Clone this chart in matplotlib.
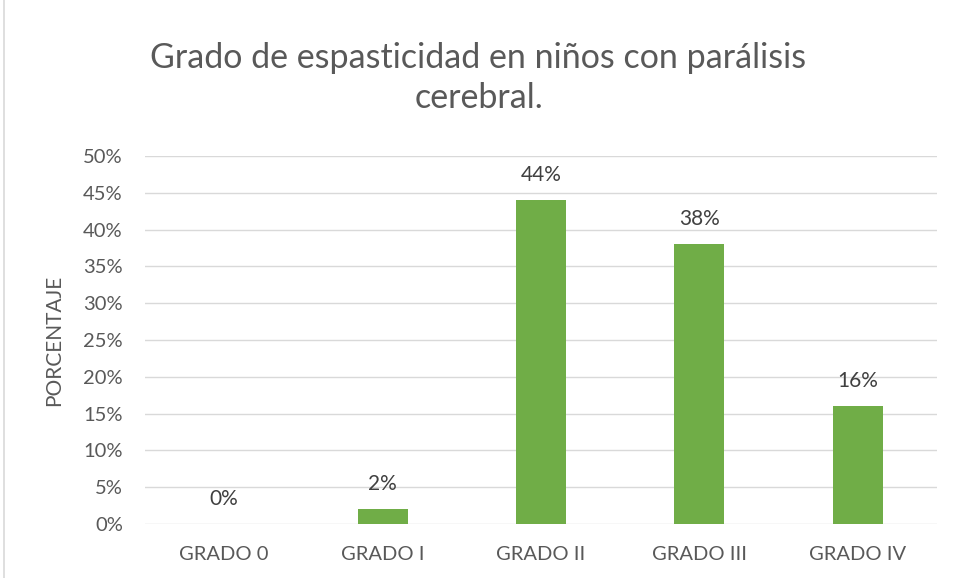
import matplotlib
matplotlib.use("Agg")
import matplotlib.pyplot as plt
from matplotlib.patches import Rectangle
from matplotlib.ticker import PercentFormatter, MultipleLocator

categories = ["GRADO 0", "GRADO I", "GRADO II", "GRADO III", "GRADO IV"]
values = [0, 2, 44, 38, 16]
title = "Grado de espasticidad en niños con parálisis\ncerebral."
ylabel = "PORCENTAJE"

plt.rcParams['font.family'] = ['Lato', 'DejaVu Sans']
txt = "#595959"

fig = plt.figure(figsize=(9.57, 5.78), dpi=100)
fig.patches.append(Rectangle((4/957, -0.1), 2, 2, transform=fig.transFigure,
                             fill=False, edgecolor="#d9d9d9", linewidth=1.2))
ax = fig.add_axes([145/957, 1-524/578, (937-145)/957, (524-156)/578])

x = range(len(categories))
bars = ax.bar(x, values, width=0.316, color="#70ad47", zorder=3)
for xi, v in zip(x, values):
    ax.annotate(f"{v}%", (xi, v), xytext=(0, 11), textcoords="offset points",
                ha="center", va="bottom", fontsize=15, color="#404040")

ax.set_xlim(-0.5, 4.5)
ax.set_ylim(0, 50)
ax.yaxis.set_major_locator(MultipleLocator(5))
ax.yaxis.set_major_formatter(PercentFormatter(decimals=0))
ax.set_xticks(list(x))
ax.set_xticklabels(categories)
ax.grid(axis="y", color="#d9d9d9", linewidth=1, zorder=0)
for s in ax.spines.values():
    s.set_visible(False)
ax.tick_params(axis="both", length=0, colors=txt, labelsize=14.5)
ax.tick_params(axis="x", pad=16)
ax.tick_params(axis="y", pad=16)
ax.set_ylabel(ylabel, fontsize=15, color=txt, labelpad=14)

fig.text(0.5, 1-78/578, title, ha="center", va="center", fontsize=24.5,
         color=txt, linespacing=1.3)

fig.savefig("out.png", dpi=100)
